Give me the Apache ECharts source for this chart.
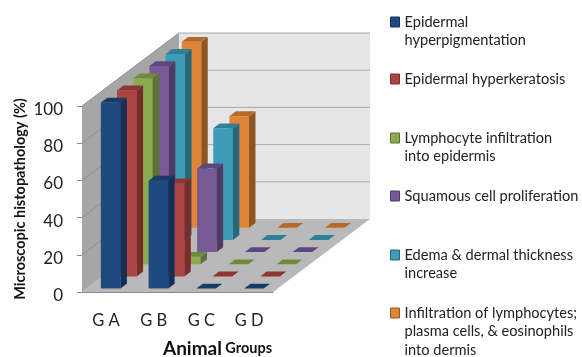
<!DOCTYPE html>
<html>
<head>
<meta charset="utf-8">
<style>
html, body { margin: 0; padding: 0; background: #fff; }
#chart { width: 582px; height: 357px; }
</style>
<script src="https://cdn.jsdelivr.net/npm/echarts@6/dist/echarts.min.js"></script>
</head>
<body>
<div id="chart"></div>
<script>
const categories = ['G A', 'G B', 'G C', 'G D'];
const yTicks = [0, 20, 40, 60, 80, 100];

const hyperpigmentation = [100, 58, 0, 0];
const hyperkeratosis = [100, 50, 0, 0];
const lymphocyteEpidermis = [100, 4, 0, 0];
const squamous = [100, 45, 0, 0];
const edema = [100, 60, 0, 0];
const lymphocyteDermis = [100, 60, 0, 0];

const seriesNames = [
	'Epidermal hyperpigmentation',
	'Epidermal hyperkeratosis',
	'Lymphocyte infiltration into epidermis',
	'Squamous cell proliferation',
	'Edema & dermal thickness increase',
	'Infiltration of lymphocytes; plasma cells, & eosinophils into dermis'
];
const seriesValues = [hyperpigmentation, hyperkeratosis, lymphocyteEpidermis, squamous, edema, lymphocyteDermis];
const legendLines = [
	['Epidermal', 'hyperpigmentation'],
	['Epidermal hyperkeratosis'],
	['Lymphocyte infiltration', 'into epidermis'],
	['Squamous cell proliferation'],
	['Edema & dermal thickness', 'increase'],
	['Infiltration of lymphocytes;', 'plasma cells, & eosinophils', 'into dermis']
];

// front, side, top
const colors = [
	['#1f4a80', '#14305a', '#173c68'],
	['#ab4442', '#7a2c2b', '#8f3533'],
	['#8bab50', '#5d7035', '#6f8a3c'],
	['#775a95', '#4f3a66', '#5f4680'],
	['#3f9cb9', '#27677b', '#2f7f99'],
	['#e08537', '#8f5625', '#b8692a']
];

// 3d look of the box, in pixels
const depthX = 97;
const depthY = 73;
const slots = seriesNames.length;
const barStart = 0.3;
const barWidth = 0.41;
const barFront = 0.28;
const barDepth = 0.4;

const legendY = [22, 79, 138, 196, 255, 313];
const legendLineHeight = 18.5;

function poly(points, fill) {
	return { type: 'polygon', shape: { points: points }, style: { fill: fill } };
}

function line(x1, y1, x2, y2, stroke) {
	return { type: 'line', shape: { x1: x1, y1: y1, x2: x2, y2: y2 }, style: { stroke: stroke, lineWidth: 1 } };
}

function renderWalls(params, api) {
	let band = api.size([1, 0])[0];
	let left = api.coord([0, 0])[0] - band / 2;
	let right = left + band * categories.length;
	let bottom = api.coord([0, 0])[1];
	let top = api.coord([0, 100])[1];
	return {
		type: 'group',
		children: [
			poly([[left + depthX, top - depthY], [right + depthX, top - depthY], [right + depthX, bottom - depthY], [left + depthX, bottom - depthY]], '#e6e6e6'),
			poly([[left, top], [left + depthX, top - depthY], [left + depthX, bottom - depthY], [left, bottom]], '#a6a6a6'),
			poly([[left, bottom], [right, bottom], [right + depthX, bottom - depthY], [left + depthX, bottom - depthY]], '#b9b9b9')
		]
	};
}

function renderGridline(params, api) {
	let band = api.size([1, 0])[0];
	let left = api.coord([0, 0])[0] - band / 2;
	let right = left + band * categories.length;
	let y = api.coord([0, api.value(1)])[1];
	if (api.value(1) === 0) {
		return { type: 'group', children: [] };
	}
	return {
		type: 'group',
		children: [
			line(left, y, left + depthX, y - depthY, '#909090'),
			line(left + depthX, y - depthY, right + depthX, y - depthY, '#a8a8a8')
		]
	};
}

function makeRenderBar(slot) {
	return function(params, api) {
		let band = api.size([1, 0])[0];
		let base = api.coord([api.value(0), 0]);
		let head = api.coord([api.value(0), api.value(1)]);
		let stepX = depthX / slots;
		let stepY = depthY / slots;
		let x0 = base[0] - band / 2 + band * barStart + stepX * (slot + barFront);
		let x1 = x0 + band * barWidth;
		let y0 = base[1] - stepY * (slot + barFront);
		let y1 = head[1] - stepY * (slot + barFront);
		let dx = stepX * barDepth;
		let dy = stepY * barDepth;
		let c = colors[slot];
		let children = [];
		if (api.value(1) > 0) {
			children.push(poly([[x0, y0], [x1, y0], [x1, y1], [x0, y1]], c[0]));
			children.push(poly([[x1, y0], [x1 + dx, y0 - dy], [x1 + dx, y1 - dy], [x1, y1]], c[1]));
		}
		children.push(poly([[x0, y1], [x1, y1], [x1 + dx, y1 - dy], [x0 + dx, y1 - dy]], c[2]));
		return { type: 'group', children: children };
	};
}

let barSeries = [];
// back row first so the front rows paint over it
for (let s = slots - 1; s >= 0; s--) {
	barSeries.push({
		name: seriesNames[s],
		type: 'custom',
		renderItem: makeRenderBar(s),
		itemStyle: { color: colors[s][0] },
		encode: { x: 0, y: 1 },
		data: seriesValues[s].map(function(v, i) { return [i, v]; })
	});
}

let legends = seriesNames.map(function(name, s) {
	let lines = legendLines[s];
	let blanks = new Array(lines.length - 1).fill('');
	let count = blanks.length + lines.length;
	return {
		left: 390,
		top: legendY[s] - count * legendLineHeight / 2,
		padding: 0,
		orient: 'vertical',
		itemWidth: 9,
		itemHeight: 10,
		selectedMode: false,
		data: [{
			name: name,
			icon: 'rect',
			itemStyle: { borderColor: colors[s][1], borderWidth: 1 }
		}],
		formatter: function() {
			return blanks.concat(lines).join('\n');
		},
		textStyle: {
			fontFamily: 'Lato',
			fontSize: 14.6,
			lineHeight: legendLineHeight,
			color: '#222'
		}
	};
});

let chart = echarts.init(document.getElementById('chart'));
chart.setOption({
	animation: false,
	backgroundColor: '#fff',
	legend: legends,
	grid: { left: 82, top: 106, width: 191, height: 186, outerBoundsMode: 'none' },
	xAxis: {
		type: 'category',
		data: categories,
		axisLine: { lineStyle: { color: '#8c8c8c' } },
		axisTick: { length: 5, lineStyle: { color: '#8c8c8c' } },
		axisLabel: { margin: 20, fontFamily: 'Lato', fontSize: 16.5, color: '#222' },
		name: '{a|Animal} {b|Groups}',
		nameLocation: 'middle',
		nameGap: 47,
		nameTextStyle: {
			padding: [0, 0, 0, 80],
			rich: {
				a: { fontFamily: 'Lato', fontWeight: 'bold', fontSize: 19, color: '#111' },
				b: { fontFamily: 'Lato', fontWeight: 'bold', fontSize: 14.5, color: '#111' }
			}
		}
	},
	yAxis: {
		type: 'value',
		min: 0,
		max: 100,
		interval: 20,
		splitLine: { show: false },
		axisLine: { show: true, lineStyle: { color: '#8c8c8c' } },
		axisTick: { show: true, length: 5, lineStyle: { color: '#8c8c8c' } },
		axisLabel: { margin: 19, verticalAlign: 'top', lineHeight: 7, fontFamily: 'Lato', fontSize: 17, color: '#222' },
		name: 'Microscopic histopathology (%)',
		nameLocation: 'middle',
		nameGap: 54,
		nameTextStyle: { fontFamily: 'Lato', fontWeight: 'bold', fontSize: 14.5, color: '#111' }
	},
	series: [{
		type: 'custom',
		name: 'walls',
		renderItem: renderWalls,
		encode: { x: 0, y: 1 },
		data: [[0, 0]],
		silent: true
	}, {
		type: 'custom',
		name: 'gridlines',
		renderItem: renderGridline,
		encode: { x: 0, y: 1 },
		data: yTicks.map(function(t) { return [0, t]; }),
		silent: true
	}].concat(barSeries)
});
</script>
</body>
</html>
